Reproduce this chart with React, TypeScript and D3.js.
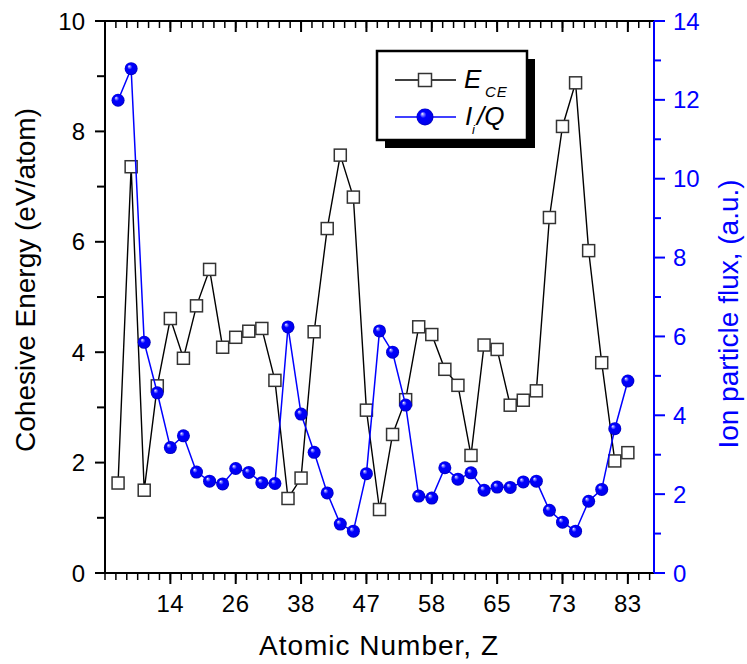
import React from "react";
import * as d3 from "d3";

const xTickIndex = [5, 10, 15, 20, 25, 30, 35, 40];
const xTickLabels = ["14", "26", "38", "47", "58", "65", "73", "83"];
const leftTicks = [0, 2, 4, 6, 8, 10];
const rightTicks = [0, 2, 4, 6, 8, 10, 12, 14];

const cohesiveEnergy = [
  1.63, 7.36, 1.5, 3.39, 4.61, 3.89, 4.84, 5.5, 4.09, 4.27,
  4.38, 4.43, 3.49, 1.35, 1.72, 4.37, 6.24, 7.57, 6.81, 2.95,
  1.15, 2.51, 3.14, 4.46, 4.32, 3.69, 3.4, 2.13, 4.13, 4.05,
  3.04, 3.13, 3.3, 6.44, 8.09, 8.88, 5.84, 3.81, 2.03, 2.18,
];
const ionFlux = [
  11.99, 12.79, 5.85, 4.57, 3.18, 3.48, 2.56, 2.33, 2.26, 2.65,
  2.55, 2.29, 2.27, 6.24, 4.03, 3.06, 2.03, 1.24, 1.06, 2.52,
  6.14, 5.6, 4.26, 1.95, 1.9, 2.67, 2.38, 2.54, 2.1, 2.18,
  2.17, 2.31, 2.33, 1.59, 1.29, 1.06, 1.82, 2.12, 3.66, 4.87,
];

const W = 747;
const H = 664;
const L = 105, R = 654, T = 21, B = 573;
const FONT = "Arial, 'Liberation Sans', sans-serif";
const BLUE = "#0000ff";

export default function App() {
  const x = d3.scaleLinear().domain([0, 42]).range([L, R]);
  const yL = d3.scaleLinear().domain([0, 10]).range([B, T]);
  const yR = d3.scaleLinear().domain([0, 14]).range([B, T]);

  const idx = cohesiveEnergy.map((_, i) => i + 1);
  const lineE = d3.line<number>().x((_, i) => x(i + 1)).y((d) => yL(d));
  const lineI = d3.line<number>().x((_, i) => x(i + 1)).y((d) => yR(d));

  const minorX = d3.range(0, 51).map((k) => (k * 5) / 6).filter((v) => v <= 42.001);
  const minorLeft = d3.range(0, 11);
  const minorRight = d3.range(0, 15);

  const sq = 12;

  return (
    <svg
      width={W}
      height={H}
      style={{ position: "absolute", left: 0, top: 0, background: "#fff" }}
      fontFamily={FONT}
    >
      <defs>
        <radialGradient id="ball" cx="0.5" cy="0.5" r="0.5" fx="0.33" fy="0.3">
          <stop offset="0" stopColor="#ffffff" />
          <stop offset="0.14" stopColor="#9090ff" />
          <stop offset="0.38" stopColor="#0000ff" />
          <stop offset="0.85" stopColor="#0000ee" />
          <stop offset="1" stopColor="#0000b8" />
        </radialGradient>
      </defs>
      <rect x={0} y={0} width={W} height={H} fill="#fff" />

      {/* E_CE series */}
      <path d={lineE(cohesiveEnergy) || ""} fill="none" stroke="#000" strokeWidth={1.4} />
      {cohesiveEnergy.map((d, i) => (
        <rect
          key={"e" + i}
          x={x(idx[i]) - sq / 2}
          y={yL(d) - sq / 2}
          width={sq}
          height={sq}
          fill="#fff"
          stroke="#333"
          strokeWidth={1.5}
        />
      ))}

      {/* I/Q series */}
      <path d={lineI(ionFlux) || ""} fill="none" stroke={BLUE} strokeWidth={1.5} />
      {ionFlux.map((d, i) => (
        <circle key={"i" + i} cx={x(idx[i])} cy={yR(d)} r={6.5} fill="url(#ball)" />
      ))}

      {/* axes frame */}
      <line x1={L} x2={R} y1={B} y2={B} stroke="#000" strokeWidth={2} />
      <line x1={L} x2={R} y1={T} y2={T} stroke="#000" strokeWidth={2} />
      <line x1={L} x2={L} y1={T} y2={B} stroke="#000" strokeWidth={2} />
      <line x1={R} x2={R} y1={T} y2={B} stroke={BLUE} strokeWidth={2} />

      {/* x minor ticks */}
      {minorX.map((v, k) => (
        <g key={"mx" + k}>
          <line x1={x(v)} x2={x(v)} y1={B} y2={B + 7} stroke="#000" strokeWidth={1.5} />
          <line x1={x(v)} x2={x(v)} y1={T} y2={T + 7} stroke="#000" strokeWidth={1.5} />
        </g>
      ))}
      {xTickIndex.map((v, k) => (
        <g key={"tx" + k}>
          <line x1={x(v)} x2={x(v)} y1={B} y2={B + 11} stroke="#000" strokeWidth={2} />
          <line x1={x(v)} x2={x(v)} y1={T} y2={T + 11} stroke="#000" strokeWidth={2} />
          <text x={x(v)} y={612} fontSize={24} textAnchor="middle" fill="#000" letterSpacing={0.5}>
            {xTickLabels[k]}
          </text>
        </g>
      ))}

      {/* left axis ticks */}
      {minorLeft.map((v) => (
        <line key={"ml" + v} x1={L - (v % 2 === 0 ? 10 : 8)} x2={L} y1={yL(v)} y2={yL(v)} stroke="#000" strokeWidth={2} />
      ))}
      {leftTicks.map((v) => (
        <text key={"tl" + v} x={85} y={yL(v) + 8.5} fontSize={24} textAnchor="end" fill="#000">
          {v}
        </text>
      ))}

      {/* right axis ticks */}
      {minorRight.map((v) => (
        <line key={"mr" + v} x1={R} x2={R + (v % 2 === 0 ? 11 : 7)} y1={yR(v)} y2={yR(v)} stroke={BLUE} strokeWidth={2} />
      ))}
      {rightTicks.map((v) => (
        <text key={"tr" + v} x={673} y={yR(v) + 8.5} fontSize={24} textAnchor="start" fill={BLUE}>
          {v}
        </text>
      ))}

      {/* axis titles */}
      <text x={379} y={655} fontSize={28} textAnchor="middle" fill="#000" letterSpacing={1}>
        Atomic Number, Z
      </text>
      <text transform="translate(35,280) rotate(-90)" fontSize={28} textAnchor="middle" fill="#000">
        Cohesive Energy (eV/atom)
      </text>
      <text transform="translate(738,314) rotate(-90)" fontSize={28} textAnchor="middle" fill={BLUE}>
        Ion particle flux, (a.u.)
      </text>

      {/* legend */}
      <rect x={385} y={59} width={150} height={89} fill="#000" />
      <rect x={377} y={51} width={150} height={89} fill="#fff" stroke="#000" strokeWidth={2.5} />
      <line x1={395} x2={456} y1={80} y2={80} stroke="#000" strokeWidth={1.4} />
      <rect x={425 - 6.5} y={80 - 6.5} width={13} height={13} fill="#fff" stroke="#333" strokeWidth={1.5} />
      <line x1={395} x2={456} y1={117} y2={117} stroke={BLUE} strokeWidth={1.5} />
      <circle cx={425} cy={117} r={8.5} fill="url(#ball)" />
      <text x={464} y={88} fontSize={26} fontStyle="italic" fill="#000">
        E
      </text>
      <text x={485} y={97} fontSize={15} fontStyle="italic" fill="#000" letterSpacing={1}>
        CE
      </text>
      <text x={465} y={125} fontSize={26} fontStyle="italic" fill="#000">
        I
      </text>
      <text x={472} y={134} fontSize={13} fontStyle="italic" fill="#000">
        i
      </text>
      <text x={477} y={125} fontSize={26} fontStyle="italic" fill="#000">
        /Q
      </text>
    </svg>
  );
}
